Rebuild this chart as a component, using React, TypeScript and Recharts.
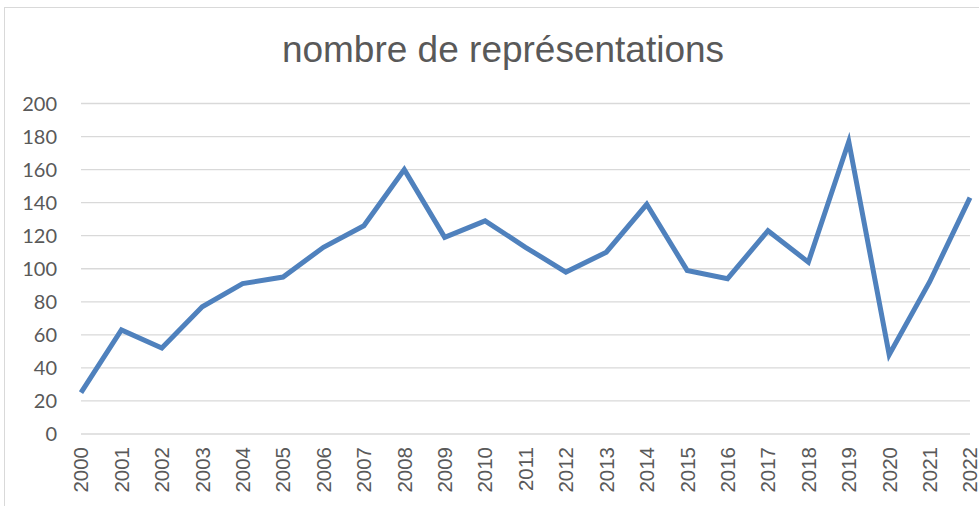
import React from "react";
import { LineChart, Line, XAxis, YAxis, CartesianGrid } from "recharts";

const years = [
  "2000", "2001", "2002", "2003", "2004", "2005", "2006", "2007", "2008", "2009", "2010", "2011",
  "2012", "2013", "2014", "2015", "2016", "2017", "2018", "2019", "2020", "2021", "2022",
];
const representations = [
  25, 63, 52, 77, 91, 95, 113, 126, 160, 119, 129, 113, 98, 110, 139, 99, 94, 123, 104, 177, 48, 92, 143,
];
const yTicks = [0, 20, 40, 60, 80, 100, 120, 140, 160, 180, 200];
const title = "nombre de représentations";

const data = years.map((y, i) => ({ year: y, value: representations[i] }));

const XTick = (props: any) => {
  const { x, y, payload } = props;
  return (
    <text
      transform={`translate(${x},${y + 5}) rotate(-90)`}
      textAnchor="end"
      dy="0.36em"
      fill="#595959"
      fontSize={20.5}
      fontFamily="'Liberation Sans', Arial, sans-serif"
    >
      {payload.value}
    </text>
  );
};

export default function App() {
  return (
    <div
      style={{
        position: "absolute",
        left: 0,
        top: 0,
        width: 979,
        height: 506,
        overflow: "hidden",
        background: "#ffffff",
      }}
    >
      <div
        style={{
          position: "absolute",
          left: 4,
          top: 7,
          width: 1000,
          height: 520,
          border: "1px solid #d9d9d9",
          boxSizing: "border-box",
        }}
      />
      <svg
        width={979}
        height={506}
        style={{ position: "absolute", left: 0, top: 0 }}
      >
        <text
          x={503}
          y={62}
          textAnchor="middle"
          fill="#595959"
          fontSize={37}
          fontFamily="'Liberation Sans', Arial, sans-serif"
        >
          {title}
        </text>
      </svg>
      <div style={{ position: "absolute", left: 0, top: 0 }}>
        <LineChart
          width={979}
          height={506}
          data={data}
          margin={{ top: 103.5, right: 9, bottom: 0, left: 0 }}
        >
          <CartesianGrid vertical={false} stroke="#d9d9d9" strokeWidth={1.3} />
          <XAxis
            dataKey="year"
            scale="point"
            padding={{ left: 0, right: 0 }}
            axisLine={false}
            tickLine={false}
            interval={0}
            height={72}
            tick={<XTick />}
          />
          <YAxis
            domain={[0, 200]}
            ticks={yTicks}
            width={81}
            axisLine={false}
            tickLine={false}
            tickMargin={18}
            interval={0}
            tick={{ fill: "#595959", fontSize: 20, fontFamily: "Lato, 'Liberation Sans', sans-serif" }}
          />
          <Line
            type="linear"
            dataKey="value"
            stroke="#4f81bd"
            strokeWidth={5}
            dot={false}
            activeDot={false}
            isAnimationActive={false}
          />
        </LineChart>
      </div>
    </div>
  );
}
